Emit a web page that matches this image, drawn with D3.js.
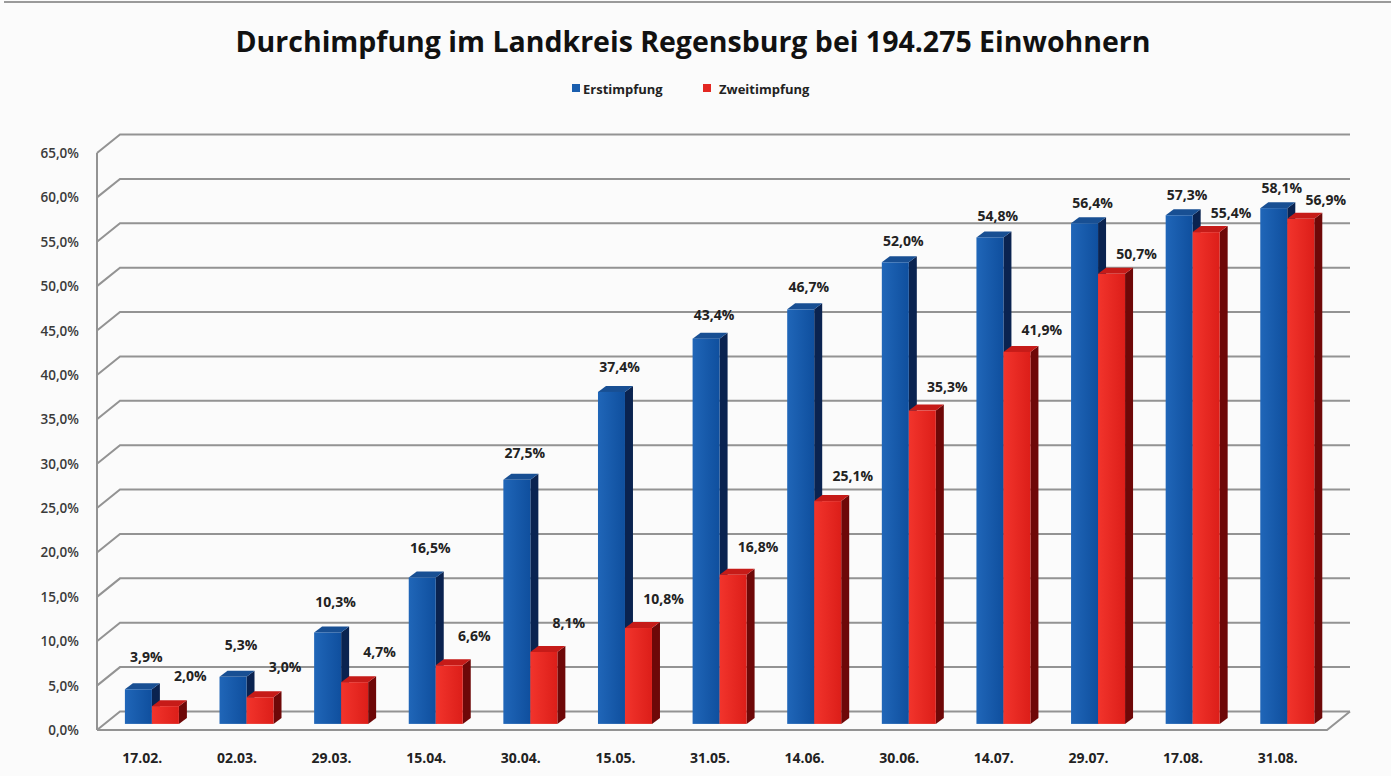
<!DOCTYPE html>
<html>
<head>
<meta charset="utf-8">
<script src="https://cdn.jsdelivr.net/npm/d3@7/dist/d3.min.js"></script>
<style>
  html, body { margin: 0; padding: 0; background: #fbfbfb; }
  svg { display: block; }
</style>
</head>
<body>
<svg id="chart" width="1391" height="776"></svg>
<script>
// ---- data ----
const categories = ["17.02.", "02.03.", "29.03.", "15.04.", "30.04.", "15.05.", "31.05.", "14.06.", "30.06.", "14.07.", "29.07.", "17.08.", "31.08."];
const erstimpfung = [3.9, 5.3, 10.3, 16.5, 27.5, 37.4, 43.4, 46.7, 52.0, 54.8, 56.4, 57.3, 58.1];
const zweitimpfung = [2.0, 3.0, 4.7, 6.6, 8.1, 10.8, 16.8, 25.1, 35.3, 41.9, 50.7, 55.4, 56.9];
const seriesNames = ["Erstimpfung", "Zweitimpfung"];
const yTickValues = [0, 5, 10, 15, 20, 25, 30, 35, 40, 45, 50, 55, 60, 65];
const yTickLabels = ["0,0%", "5,0%", "10,0%", "15,0%", "20,0%", "25,0%", "30,0%", "35,0%", "40,0%", "45,0%", "50,0%", "55,0%", "60,0%", "65,0%"];
const titleText = "Durchimpfung im Landkreis Regensburg bei 194.275 Einwohnern";

// ---- layout ----
const W = 1391, H = 776;
const frontLeft = 97, frontRight = 1327;
const frontBottom = 730, frontTop = 153;
const D = { x: 23, y: -18.5 };      // wall depth vector
const barDepthFrac = 0.33;          // bars start at this depth
const barD = { x: 8, y: -6 };       // bar depth
const colors = {
  blue: { front0: "#2066b8", front1: "#0f4f9e", top: "#184f93", side: "#0a2350" },
  red:  { front0: "#f2342c", front1: "#dc1e19", top: "#c61b18", side: "#6e0808" }
};

const locale = d3.formatLocale({ decimal: ",", thousands: ".", grouping: [3], currency: ["", "€"] });
const fmtPct = v => locale.format(".1f")(v) + "%";

const svg = d3.select("#chart");
const defs = svg.append("defs");
["blue", "red"].forEach(k => {
  const g = defs.append("linearGradient").attr("id", "grad-" + k)
    .attr("x1", "0%").attr("x2", "100%").attr("y1", "0%").attr("y2", "0%");
  g.append("stop").attr("offset", "0%").attr("stop-color", colors[k].front0);
  g.append("stop").attr("offset", "100%").attr("stop-color", colors[k].front1);
});

const y = d3.scaleLinear().domain([0, 65]).range([frontBottom, frontTop]);
const x = d3.scaleBand().domain(categories).range([frontLeft, frontRight]).paddingInner(0).paddingOuter(0);

// top border line
svg.append("line").attr("x1", 4).attr("x2", W).attr("y1", 2).attr("y2", 2)
  .attr("stroke", "#9a9a9a").attr("stroke-width", 2);

// title
svg.append("text").attr("x", 693).attr("y", 52).attr("text-anchor", "middle")
  .attr("font-family", "'Open Sans', sans-serif").attr("font-weight", 700)
  .attr("font-size", 28).attr("fill", "#111")
  .attr("textLength", 915).attr("lengthAdjust", "spacingAndGlyphs")
  .text(titleText);

// legend
const legendItems = [
  { name: seriesNames[0], color: "#1a5eae", x: 572, tx: 583 },
  { name: seriesNames[1], color: "#e32722", x: 703, tx: 719 }
];
legendItems.forEach(it => {
  svg.append("rect").attr("x", it.x).attr("y", 84).attr("width", 8).attr("height", 8).attr("fill", it.color);
  svg.append("text").attr("x", it.tx).attr("y", 94)
    .attr("font-family", "'Open Sans', sans-serif").attr("font-weight", 700)
    .attr("font-size", 13).attr("fill", "#222").text(it.name);
});

// gridlines: left wall diagonal + back wall horizontal
const grid = svg.append("g").attr("stroke", "#939393").attr("stroke-width", 2).attr("fill", "none");
yTickValues.forEach(v => {
  const yf = y(v);
  grid.append("path").attr("d", `M${frontLeft},${yf} L${frontLeft + D.x},${yf + D.y} L${frontRight + D.x},${yf + D.y}`);
});
// front left axis
grid.append("line").attr("x1", frontLeft).attr("x2", frontLeft).attr("y1", y(65)).attr("y2", y(0));
// floor front edge + right edge
grid.append("path").attr("d", `M${frontLeft},${y(0)} L${frontRight},${y(0)} L${frontRight + D.x},${y(0) + D.y}`);

// y tick labels
svg.append("g").selectAll("text").data(yTickValues).join("text")
  .attr("x", 79).attr("y", v => y(v) + 5).attr("text-anchor", "end")
  .attr("font-family", "'Open Sans', sans-serif").attr("font-weight", 600)
  .attr("font-size", 13.5).attr("fill", "#3a3a3a")
  .text((v, i) => yTickLabels[i]);

// bars
const bw = x.bandwidth();
const barW = [27, 27];
const baseShift = { x: D.x * barDepthFrac, y: D.y * barDepthFrac };
function drawBar(g, x0, w, v, k) {
  const yBase = y(0) + baseShift.y;
  const yTop = y(v) + baseShift.y;
  const c = colors[k];
  g.append("path").attr("fill", c.side)
    .attr("d", `M${x0 + w},${yTop} L${x0 + w + barD.x},${yTop + barD.y} L${x0 + w + barD.x},${yBase + barD.y} L${x0 + w},${yBase} Z`);
  g.append("path").attr("fill", c.top)
    .attr("d", `M${x0},${yTop} L${x0 + w},${yTop} L${x0 + w + barD.x},${yTop + barD.y} L${x0 + barD.x},${yTop + barD.y} Z`);
  g.append("rect").attr("x", x0).attr("y", yTop).attr("width", w).attr("height", yBase - yTop)
    .attr("fill", `url(#grad-${k})`);
}
const barsG = svg.append("g");
const labelsG = svg.append("g").attr("font-family", "'Open Sans', sans-serif")
  .attr("font-weight", 700).attr("font-size", 14).attr("fill", "#222").attr("text-anchor", "middle");

categories.forEach((cat, i) => {
  const pc = x(cat) + bw / 2 + baseShift.x;
  const bx = pc - barW[0];
  const rx = pc;
  drawBar(barsG, bx, barW[0], erstimpfung[i], "blue");
  drawBar(barsG, rx, barW[1], zweitimpfung[i], "red");
  const vb = erstimpfung[i], vr = zweitimpfung[i];
  labelsG.append("text").attr("x", bx + barW[0] / 2 + 8)
    .attr("y", y(vb) + baseShift.y - (33 - 0.22 * vb) + 5).text(fmtPct(vb));
  labelsG.append("text").attr("x", rx + barW[1] / 2 + 25)
    .attr("y", y(vr) + baseShift.y - (31 - 0.22 * vr) + 5).text(fmtPct(vr));
});

// x labels
svg.append("g").selectAll("text").data(categories).join("text")
  .attr("x", d => x(d) + bw / 2 - 2).attr("y", 763).attr("text-anchor", "middle")
  .attr("font-family", "'Open Sans', sans-serif").attr("font-weight", 700)
  .attr("font-size", 14).attr("fill", "#222").text(d => d);
</script>
</body>
</html>
